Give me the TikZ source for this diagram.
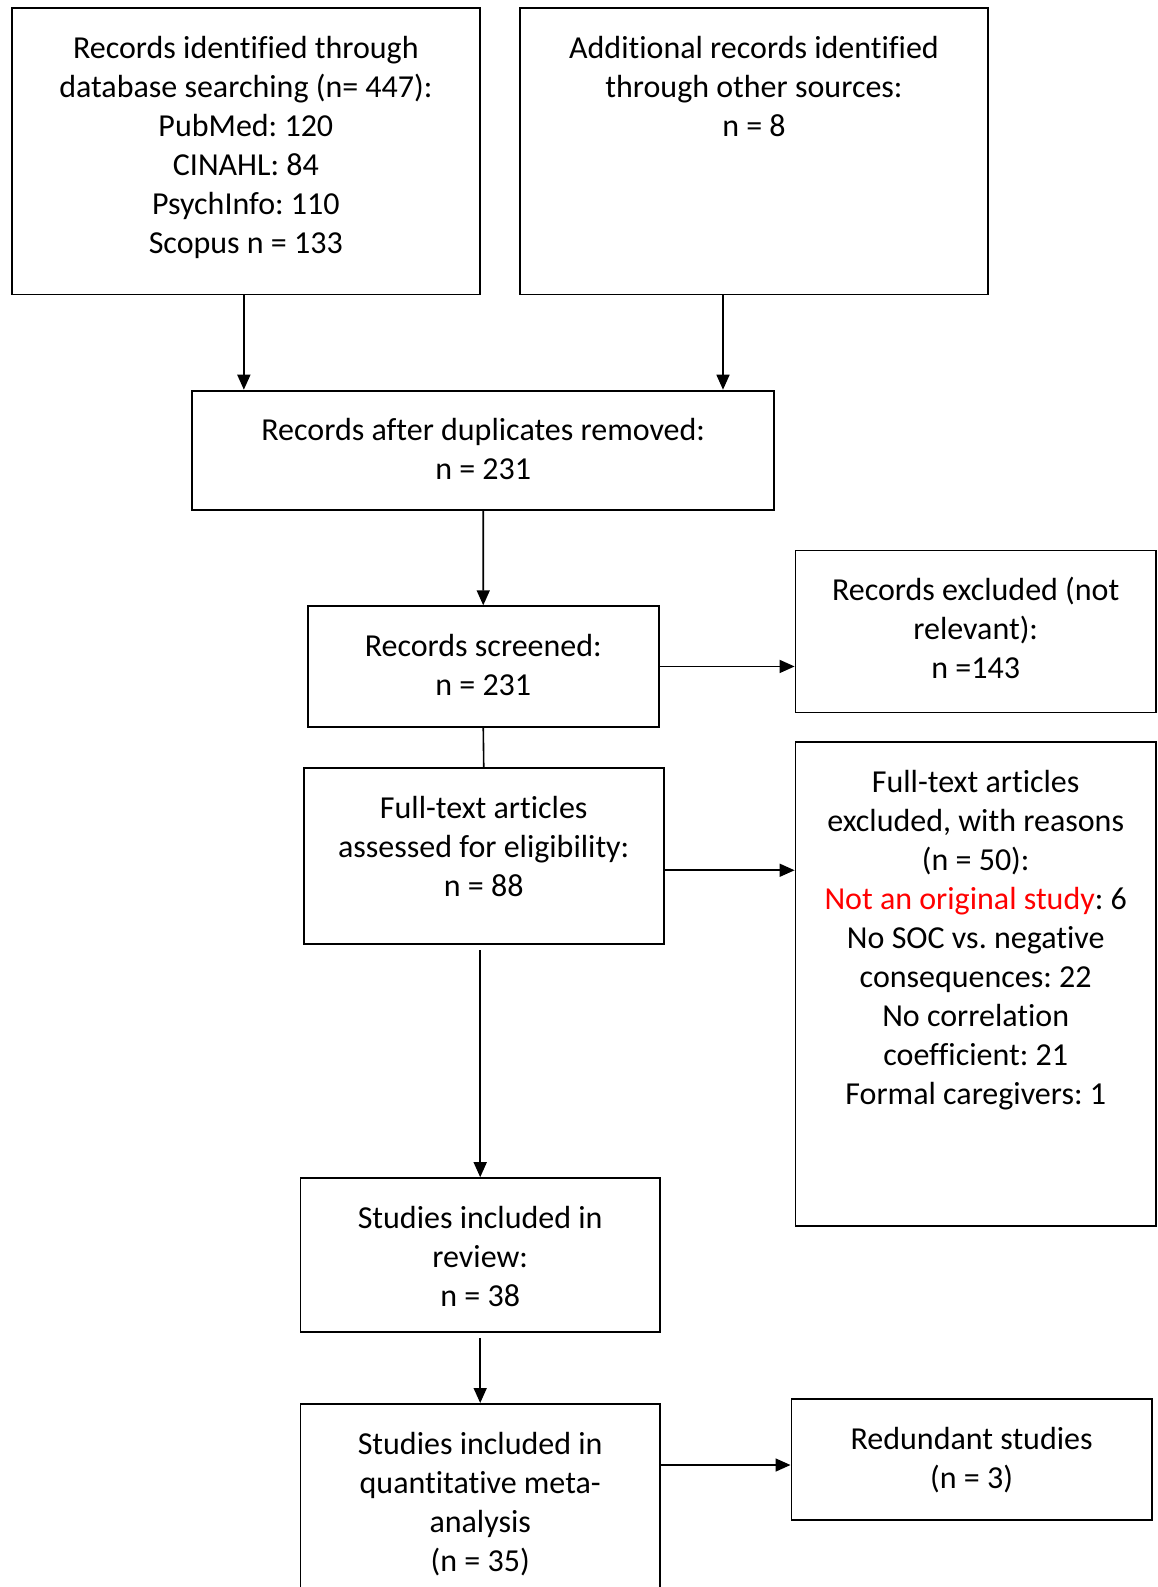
\documentclass[tikz,border=0pt]{standalone}
\usepackage{fontspec}
\setmainfont{Carlito}[Ligatures=NoCommon]
\usetikzlibrary{arrows.meta}
\frenchspacing
\newcommand{\boxfont}{\fontsize{32}{39}\selectfont\frenchspacing}
\begin{document}
\begin{tikzpicture}[x=1pt,y=-1pt,
  box/.style={draw, line width=1.8pt, inner sep=0pt, anchor=north west},
  txt/.style={anchor=north, inner sep=0pt, text height=0pt, align=flush center, font=\boxfont},
  arr/.style={line width=1.6pt, -{Triangle[length=15pt,width=13pt]}},
  ln/.style={line width=1.6pt}]
\useasboundingbox (0,0) rectangle (1157,1587);
\clip (0,0) rectangle (1157,1587);
% boxes
\node[box, minimum width=467.7pt, minimum height=286.4pt] (A) at (11.1,7.1) {};
\node[box, minimum width=467.6pt, minimum height=286.4pt] (B) at (519.3,7.1) {};
\node[box, minimum width=582pt, minimum height=119.4pt] (C) at (191.3,389.7) {};
\node[box, minimum width=351.3pt, minimum height=120.5pt] (D) at (306.7,605.3) {};
\node[box, minimum width=360.4pt, minimum height=162pt] (E) at (794.6,549.6) {};
\node[box, minimum width=360.3pt, minimum height=176.1pt] (F) at (302.7,767.3) {};
\node[box, minimum width=360.4pt, minimum height=483.8pt] (G) at (794.6,741) {};
\node[box, minimum width=359.4pt, minimum height=153.8pt] (H) at (299.6,1177.2) {};
\node[box, minimum width=359.4pt, minimum height=220pt] (I) at (299.6,1403) {};
\node[box, minimum width=360.5pt, minimum height=121.4pt] (J) at (790.5,1398) {};
% texts
\node[txt, text width=450pt] (At) at ([yshift=-51pt]A.north) {Records identified through\\database searching (n= 447):\\PubMed: 120\\CINAHL: 84\\PsychInfo: 110\\Scopus n = 133};
\node[txt, text width=450pt] (Bt) at ([yshift=-51pt]B.north) {Additional records identified\\through other sources:\\n = 8};
\node[txt, text width=560pt] (Ct) at ([yshift=-51pt]C.north) {Records after duplicates removed:\\n = 231};
\node[txt, text width=340pt] (Dt) at ([yshift=-51pt]D.north) {Records screened:\\n = 231};
\node[txt, text width=350pt] (Et) at ([yshift=-51pt]E.north) {Records excluded (not\\relevant):\\n =143};
\node[txt, text width=350pt] (Ft) at ([yshift=-51pt]F.north) {Full-text articles\\assessed for eligibility:\\n = 88};
\node[txt, text width=350pt] (Gt) at ([yshift=-51pt]G.north) {Full-text articles\\excluded, with reasons\\(n = 50):\\\textcolor{red}{Not an original study}: 6\\No SOC vs. negative\\consequences: 22\\No correlation\\coefficient: 21\\Formal caregivers: 1};
\node[txt, text width=350pt] (Ht) at ([yshift=-51pt]H.north) {Studies included in\\review:\\n = 38};
\node[txt, text width=350pt] (It) at ([yshift=-51pt]I.north) {Studies included in\\quantitative meta-\\analysis\\(n = 35)};
\node[txt, text width=350pt] (Jt) at ([yshift=-51pt]J.north) {Redundant studies\\(n = 3)};
% connectors
\draw[arr] ([xshift=-2pt]A.south) -- ([xshift=-2pt]A.south |- C.north);
\draw[arr] ([xshift=-31pt]B.south) -- ([xshift=-31pt]B.south |- C.north);
\draw[arr] (C.south) -- (D.north);
\draw[arr] (D.east) -- (D.east -| E.west);
\draw[ln] (D.south) -- (F.north);
\draw[arr] ([yshift=-14pt]F.east) -- ([yshift=-14pt]F.east -| G.west);
\draw[arr] ([yshift=-5pt]F.south -| H.north) -- (H.north);
\draw[arr] ([yshift=-5pt]H.south) -- (I.north);
\draw[arr] ([yshift=-62pt]I.north east) -- ([yshift=-62pt]I.north east -| J.west);
\end{tikzpicture}
\end{document}
